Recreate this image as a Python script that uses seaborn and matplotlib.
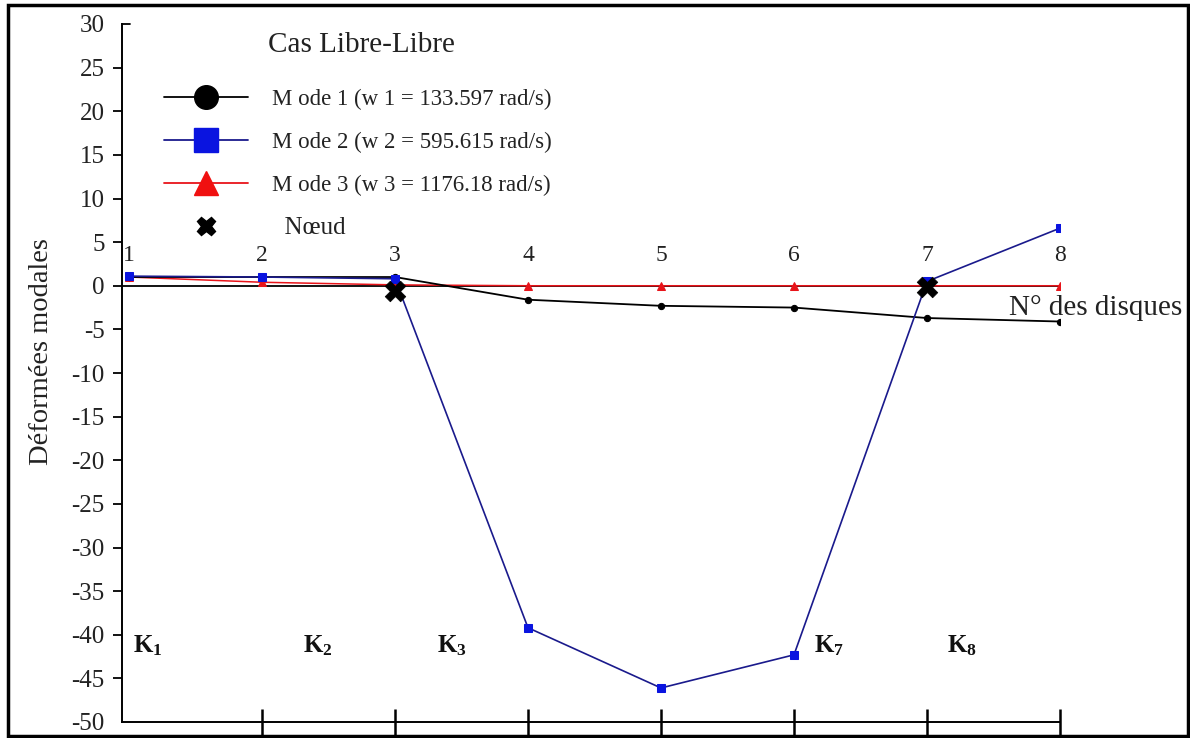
import numpy as np
import pandas as pd
import matplotlib
matplotlib.use("Agg")
import matplotlib.pyplot as plt
from matplotlib.lines import Line2D
from matplotlib.patches import Rectangle
import seaborn as sns

# Disc numbers along the shaft
disques = [1, 2, 3, 4, 5, 6, 7, 8]

# Modal shapes (free-free case)
mode1 = [1.0, 1.0, 1.0, -1.6, -2.3, -2.5, -3.7, -4.1]
mode2 = [1.1, 1.0, 0.8, -39.2, -46.1, -42.3, 0.5, 6.6]
mode3 = [1.0, 0.4, 0.1, 0.0, 0.0, 0.0, 0.0, 0.0]

# Node locations
noeud_x = [3, 7]
noeud_y = [-0.6, -0.1]

labels_modes = [
    "M ode 1 (w 1 = 133.597 rad/s)",
    "M ode 2 (w 2 = 595.615 rad/s)",
    "M ode 3 (w 3 = 1176.18 rad/s)",
]
label_noeud = "Nœud"
titre = "Cas Libre-Libre"
ylabel = "Déformées modales"
xlabel = "N° des disques"

yticks = list(range(-50, 35, 5))
segment_ticks = [2, 3, 4, 5, 6, 7, 8]
raideurs = ["1", "2", "3", "7", "8"]
raideurs_x = [1.14, 2.42, 3.43, 6.26, 7.26]

sns.set_theme(style="white")
plt.rcParams["font.family"] = ["Liberation Serif", "DejaVu Serif"]
plt.rcParams["mathtext.fontset"] = "custom"
plt.rcParams["mathtext.bf"] = "Liberation Serif:bold"
plt.rcParams["mathtext.rm"] = "Liberation Serif"

fig = plt.figure(figsize=(11.9, 7.38), dpi=100)
W, H = 1190, 738
x_left, x_right, y_top, y_bot = 122, 1060, 24, 722
ax = fig.add_axes([x_left / W, (H - y_bot) / H, (x_right - x_left) / W, (y_bot - y_top) / H])

df = pd.DataFrame({"disque": disques, "m1": mode1, "m2": mode2, "m3": mode3})

ax.axhline(0, color="black", lw=1.3, zorder=1)

sns.lineplot(data=df, x="disque", y="m3", ax=ax, color="#e8141a", lw=1.1,
             marker="^", markersize=6, markeredgecolor="#e8141a", zorder=2)
sns.lineplot(data=df, x="disque", y="m1", ax=ax, color="black", lw=1.3,
             marker="o", markersize=4.5, markeredgecolor="black", zorder=3)
sns.lineplot(data=df, x="disque", y="m2", ax=ax, color="#1a1a8c", lw=1.2,
             marker="s", markersize=6, markerfacecolor="#0a14e0",
             markeredgecolor="#0a14e0", zorder=4)
sns.scatterplot(x=noeud_x, y=noeud_y, ax=ax, marker="X", s=220, color="black",
                edgecolor="black", linewidth=0.5, zorder=5)

ax.set_xlim(1 - (129 - x_left) / 133.0, 8)
ax.set_ylim(-50, 30)

# Spines: only left and bottom
for side in ["top", "right"]:
    ax.spines[side].set_visible(False)
for side in ["left", "bottom"]:
    ax.spines[side].set_color("black")
    ax.spines[side].set_linewidth(1.4)

ax.set_yticks(yticks)
ax.set_yticklabels([str(v) for v in yticks], fontsize=18, color="#222222")
ax.tick_params(axis="y", left=True, direction="out", length=6.5, width=1.3,
               color="black", pad=6)
yt = ax.yaxis.get_major_ticks()
yt[0].tick1line.set_visible(False)
yt[-1].tick1line.set_visible(False)
ax.plot([0, 0.009], [1, 1], transform=ax.transAxes, color="black", lw=1.3, clip_on=False)

ax.set_xticks(segment_ticks)
ax.set_xticklabels([""] * len(segment_ticks))
ax.tick_params(axis="x", bottom=True, direction="inout", length=19, width=1.8, color="black")

ax.set_xlabel("")
ax.set_ylabel(ylabel, fontsize=20.5, color="#222222")
ax.yaxis.set_label_coords((54 - x_left) / (x_right - x_left), (y_bot - 352) / (y_bot - y_top))

# Disc numbers above the zero line
for d in disques:
    ax.text(d, 3.5, str(d), ha="center", va="center", fontsize=17, color="#222222")

ax.text(7.62, -2.6, xlabel, ha="left", va="center", fontsize=21, color="#222222", clip_on=False)

# Shaft stiffness labels
for k, xk in zip(raideurs, raideurs_x):
    ax.text(xk, -41.3, r"$\mathbf{K_{%s}}$" % k, ha="center", va="center",
            fontsize=18, color="#111111")

# Legend block
fig.text(268 / W, 1 - 45 / H, titre, ha="left", va="center", fontsize=21, color="#222222")

handles = [
    Line2D([], [], color="black", lw=1.3, marker="o", markersize=17),
    Line2D([], [], color="#1a1a8c", lw=1.3, marker="s", markersize=17,
           markerfacecolor="#0a14e0", markeredgecolor="#0a14e0"),
    Line2D([], [], color="#e8141a", lw=1.3, marker="^", markersize=17,
           markerfacecolor="#f01010", markeredgecolor="#f01010"),
    Line2D([], [], ls="none", marker="X", markersize=13, color="black"),
]
leg = ax.legend(handles, labels_modes + ["  " + label_noeud],
                loc="upper left", bbox_to_anchor=(143 / W, 1 - 68 / H),
                bbox_transform=fig.transFigure, frameon=False,
                fontsize=16.5, handlelength=3.7,
                handletextpad=1.05, labelspacing=0.95, numpoints=1)
for t in leg.get_texts():
    t.set_color("#222222")
leg.get_texts()[3].set_fontsize(18)

# Outer frame around the whole figure
fig.patches.append(Rectangle((8 / W, 2 / H), (1188 - 8) / W, (733 - 2) / H,
                             transform=fig.transFigure, fill=False,
                             edgecolor="black", lw=2.5))

fig.savefig("out.png", dpi=100)
